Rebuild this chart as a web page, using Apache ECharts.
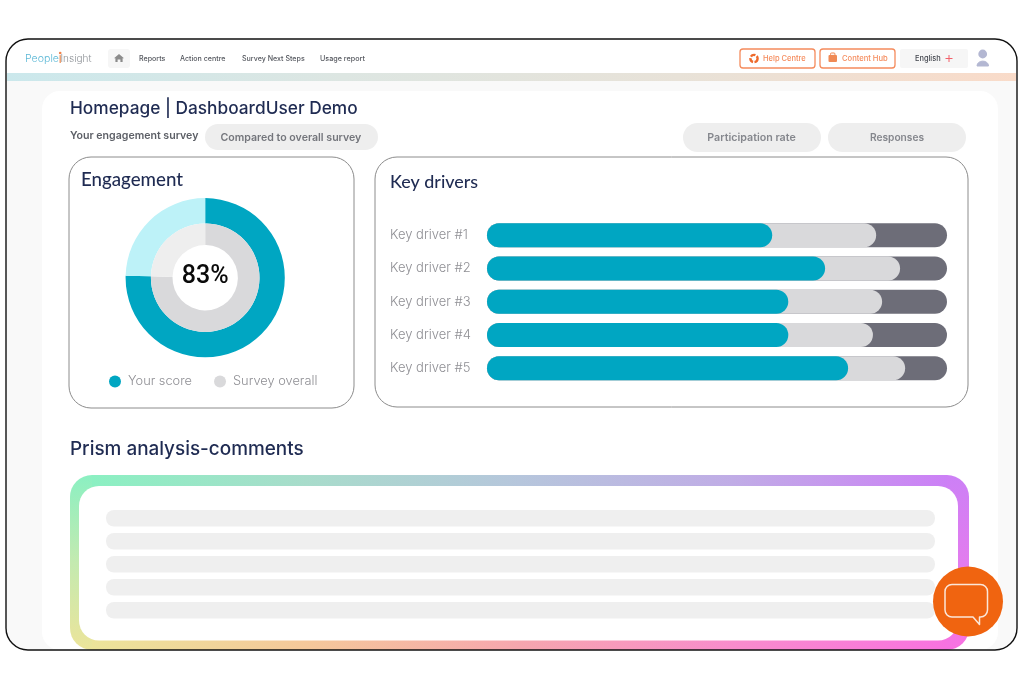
<!DOCTYPE html>
<html><head><meta charset="utf-8">
<style>html,body{margin:0;padding:0;background:#fff}#c{width:1024px;height:689px}</style>
<script src="https://cdn.jsdelivr.net/npm/echarts@6/dist/echarts.min.js"></script>
</head><body><div id="c"></div>
<script>
const engagementScore = 83;
const donutLabels = ['Your score', 'Survey overall'];
const yourScoreDonut = [75.4, 24.6];
const overallDonut = [75.4, 24.6];
const drivers = ['Key driver #1', 'Key driver #2', 'Key driver #3', 'Key driver #4', 'Key driver #5'];
const yourScores = [62, 73.5, 65.5, 65.5, 78.5];
const overallScores = [84.6, 89.8, 85.9, 83.9, 90.9];
const totals = [100, 100, 100, 100, 100];

const TEAL = '#00a6c2', GREY = '#d9d9db', DARK = '#6d6d78', NAVY = '#1f2b52';
const UI = 'Inter, "Open Sans", sans-serif', HEAD = 'Lato, "Open Sans", sans-serif';
const LG = (x, y, x2, y2, stops) => new echarts.graphic.LinearGradient(x, y, x2, y2, stops.map((c, i) => ({offset: i / (stops.length - 1), color: c})));

function box(x, y, w, h, r, style, z) {
  return {type: 'rect', shape: {x, y, width: w, height: h, r}, style, z: z || 0, silent: true};
}
function txt(x, y, text, size, fill, weight, family, align, z) {
  return {type: 'text', z: z || 5, silent: true, style: {x, y, text, fontSize: size, fill, fontWeight: weight || 400,
    fontFamily: family || UI, align: align || 'left', textAlign: align || 'left', verticalAlign: 'middle', textVerticalAlign: 'middle'}};
}
let shapeCount = 0;
function raw(d, style, z) {
  const name = 'chromePath' + (shapeCount++);
  echarts.graphic.registerShape(name, echarts.graphic.extendPath(d, {}));
  return {type: name, style, z: z || 5, silent: true};
}

const chrome = [
  // page surface
  box(6, 39, 1011, 611, 22, {fill: '#f9f9f9'}, 0),
  raw('M7 74 V61 A21 21 0 0 1 28 40 H995 A21 21 0 0 1 1016 61 V74 Z', {fill: '#fff'}, 1),
  box(7, 73, 1009, 8, 0, {fill: LG(0, 0, 1, 0, ['#cbe8ec', '#dde6e2', '#e8e2d8', '#f9dbc9'])}, 1),
  box(42, 91, 956, 559, 18, {fill: '#fff'}, 1),
  // nav
  txt(25, 58.8, 'People', 10.6, '#5cb8d6', 300),
  txt(60.5, 58.8, 'Insight', 10, '#8f9398', 300),
  box(59.5, 55, 1.5, 8, 0.5, {fill: '#f0a070'}, 5),
  {type: 'circle', shape: {cx: 60.2, cy: 53, r: 1.3}, style: {fill: '#f0824a'}, z: 5, silent: true},
  box(108, 49, 22, 19, 3, {fill: '#f6f6f6'}, 3),
  raw('M119 54 L124 58.2 H122.6 V62 H120.4 V59.4 H117.6 V62 H115.4 V58.2 H114 Z', {fill: '#8b8b8b'}),
  txt(139, 59, 'Reports', 7.1, '#55585f', 500),
  txt(180, 59, 'Action centre', 7.1, '#55585f', 500),
  txt(242, 59, 'Survey Next Steps', 7.1, '#55585f', 500),
  txt(320, 59, 'Usage report', 7.2, '#55585f', 500),
  box(740, 49, 75, 19, 3, {fill: '#fff', stroke: '#f58b5c', lineWidth: 1.3}, 3),
  {type: 'circle', z: 5, silent: true, shape: {cx: 754, cy: 58.5, r: 3.6}, style: {fill: 'none', stroke: '#ee6a2c', lineWidth: 2.4, lineDash: [5, 1.5]}},
  txt(763, 59, 'Help Centre', 7.5, '#f58b5c', 500),
  box(820, 49, 75, 19, 3, {fill: '#fff', stroke: '#f58b5c', lineWidth: 1.3}, 3),
  box(828.5, 55, 8.5, 7, 1, {fill: '#f08a55'}, 5),
  box(830.5, 53, 4.5, 2.4, 1, {fill: 'none', stroke: '#f08a55', lineWidth: 1}, 5),
  txt(842, 59, 'Content Hub', 7.6, '#f58b5c', 500),
  box(900, 49, 68, 19, 2, {fill: '#f6f6f6'}, 3),
  txt(915, 58.8, 'English', 7.4, '#44474f', 500),
  raw('M945.5 58.5 H952.5 M949 55 V62', {stroke: '#f2606a', lineWidth: 1, fill: 'none'}),
  {type: 'circle', z: 5, silent: true, shape: {cx: 982.7, cy: 54, r: 4.4}, style: {fill: '#b3b7d2'}},
  raw('M977 66 C977 59.5 988.5 59.5 988.5 66 Z', {fill: '#b3b7d2', stroke: '#b3b7d2', lineWidth: 1, lineJoin: 'round'}),
  // heading row
  txt(70, 109, 'Homepage | DashboardUser Demo', 17.3, NAVY, 500),
  txt(70, 136.3, 'Your engagement survey', 10.6, '#5c5f66', 600),
  box(205, 124, 173, 26, 13, {fill: '#eeeeee'}, 3),
  txt(220.5, 138, 'Compared to overall survey', 10.6, '#74767c', 600),
  box(683, 123, 138, 29, 14.5, {fill: '#eeeeee'}, 3),
  txt(751.5, 138, 'Participation rate', 10.7, '#85878d', 600, UI, 'center'),
  box(828, 123, 138, 29, 14.5, {fill: '#eeeeee'}, 3),
  txt(897, 138, 'Responses', 10.2, '#85878d', 600, UI, 'center'),
  // cards
  box(69, 157, 285, 251, 22, {fill: '#fff', stroke: '#8c8c8c', lineWidth: 1}, 2),
  txt(81, 180, 'Engagement', 18.7, NAVY, 500, HEAD),
  box(375, 157, 593, 250, 22, {fill: '#fff', stroke: '#8c8c8c', lineWidth: 1}, 2),
  txt(390, 182, 'Key drivers', 17.9, NAVY, 500, HEAD),
  // prism card
  txt(70, 449.5, 'Prism analysis-comments', 18.9, NAVY, 500),
  box(70, 475, 450, 175, [22, 0, 0, 22], {fill: LG(0, 0, 0, 1, ['#8bf0c2', '#c4eab0', '#ece49a'])}, 2),
  box(520, 475, 449, 175, [0, 22, 22, 0], {fill: LG(0, 0, 0, 1, ['#cc80f6', '#e27cee', '#f872e0'])}, 2),
  box(92, 475, 855, 11, 0, {fill: LG(0, 0, 1, 0, ['#8bf0c2', '#a8dccb', '#b6c6dc', '#c0ace6', '#cc80f6'])}, 3),
  box(92, 640, 855, 10, 0, {fill: LG(0, 0, 1, 0, ['#ece49a', '#f5c89a', '#f6a6ae', '#f88ccc', '#f872e0'])}, 3),
  box(79, 486, 879, 154.5, 20, {fill: '#fff'}, 4),
  ...[510, 533, 556, 579, 602].map(y => box(106, y, 829, 16.5, 8, {fill: '#efefef'}, 5)),
  // frame
  box(6, 39, 1011, 611, 22, {fill: 'none', stroke: '#111', lineWidth: 1.4}, 20),
  // chat bubble
  {type: 'circle', z: 30, silent: true, shape: {cx: 968, cy: 601.5, r: 35}, style: {fill: '#f06410'}},
  raw('M952 584.5 H980.5 A7 7 0 0 1 987.5 591.5 V610 A7 7 0 0 1 980.5 617 H979.5 V624.5 L973 617 H952 A7 7 0 0 1 945 610 V591.5 A7 7 0 0 1 952 584.5 Z',
    {fill: 'none', stroke: '#fbe6d8', lineWidth: 1.5, lineJoin: 'round'}, 31)
];

const pieBase = {type: 'pie', center: [205.2, 277.7], startAngle: 90, clockwise: true, silent: true, animation: false,
  labelLine: {show: false}, label: {show: false}, emphasis: {disabled: true}};

const option = {
  animation: false,
  backgroundColor: '#ffffff',
  graphic: {elements: chrome},
  legend: {
    data: donutLabels, left: 109, top: 375, padding: 0, icon: 'circle', itemWidth: 12, itemHeight: 12, itemGap: 22,
    selectedMode: false, textStyle: {color: '#8f8f94', fontSize: 12.8, fontFamily: UI, fontWeight: 300, padding: [0, 0, 0, 2]}
  },
  grid: {left: 487, top: 218.5, width: 460, height: 166.5},
  xAxis: {type: 'value', min: 0, max: 100, show: false},
  yAxis: {
    type: 'category', data: drivers, inverse: true, z: 10,
    axisLine: {show: false}, axisTick: {show: false},
    axisLabel: {color: '#8f8f94', fontSize: 13, fontFamily: UI, fontWeight: 300, align: 'left', margin: 97, padding: [0, 0, 3, 0]}
  },
  series: [
    {...pieBase, name: 'Your score ring', radius: [54.3, 79.6], data: [
      {name: donutLabels[0], value: yourScoreDonut[0], itemStyle: {color: TEAL}},
      {name: 'Your score remainder', value: yourScoreDonut[1], itemStyle: {color: '#bdf2f8'}}]},
    {...pieBase, name: 'Survey overall ring', radius: [32.7, 54.3], data: [
      {name: donutLabels[1], value: overallDonut[0], itemStyle: {color: GREY},
        label: {show: true, position: 'center', formatter: engagementScore + '%', offset: [0, -0.5], fontSize: 25, fontWeight: 500, color: '#0a0a0a', fontFamily: 'Roboto, sans-serif'}},
      {name: 'Survey overall remainder', value: overallDonut[1], itemStyle: {color: '#eeeeee'}}]},
    {type: 'bar', name: 'Total', data: totals, barWidth: 24, barGap: '-100%', silent: true, itemStyle: {color: DARK, borderRadius: 12}},
    {type: 'bar', name: 'Survey overall bars', data: overallScores, barWidth: 24, barGap: '-100%', silent: true, itemStyle: {color: GREY, borderRadius: 12}},
    {type: 'bar', name: 'Your score bars', data: yourScores, barWidth: 24, barGap: '-100%', silent: true, itemStyle: {color: TEAL, borderRadius: 12}}
  ]
};
echarts.init(document.getElementById('c')).setOption(option);
</script></body></html>
